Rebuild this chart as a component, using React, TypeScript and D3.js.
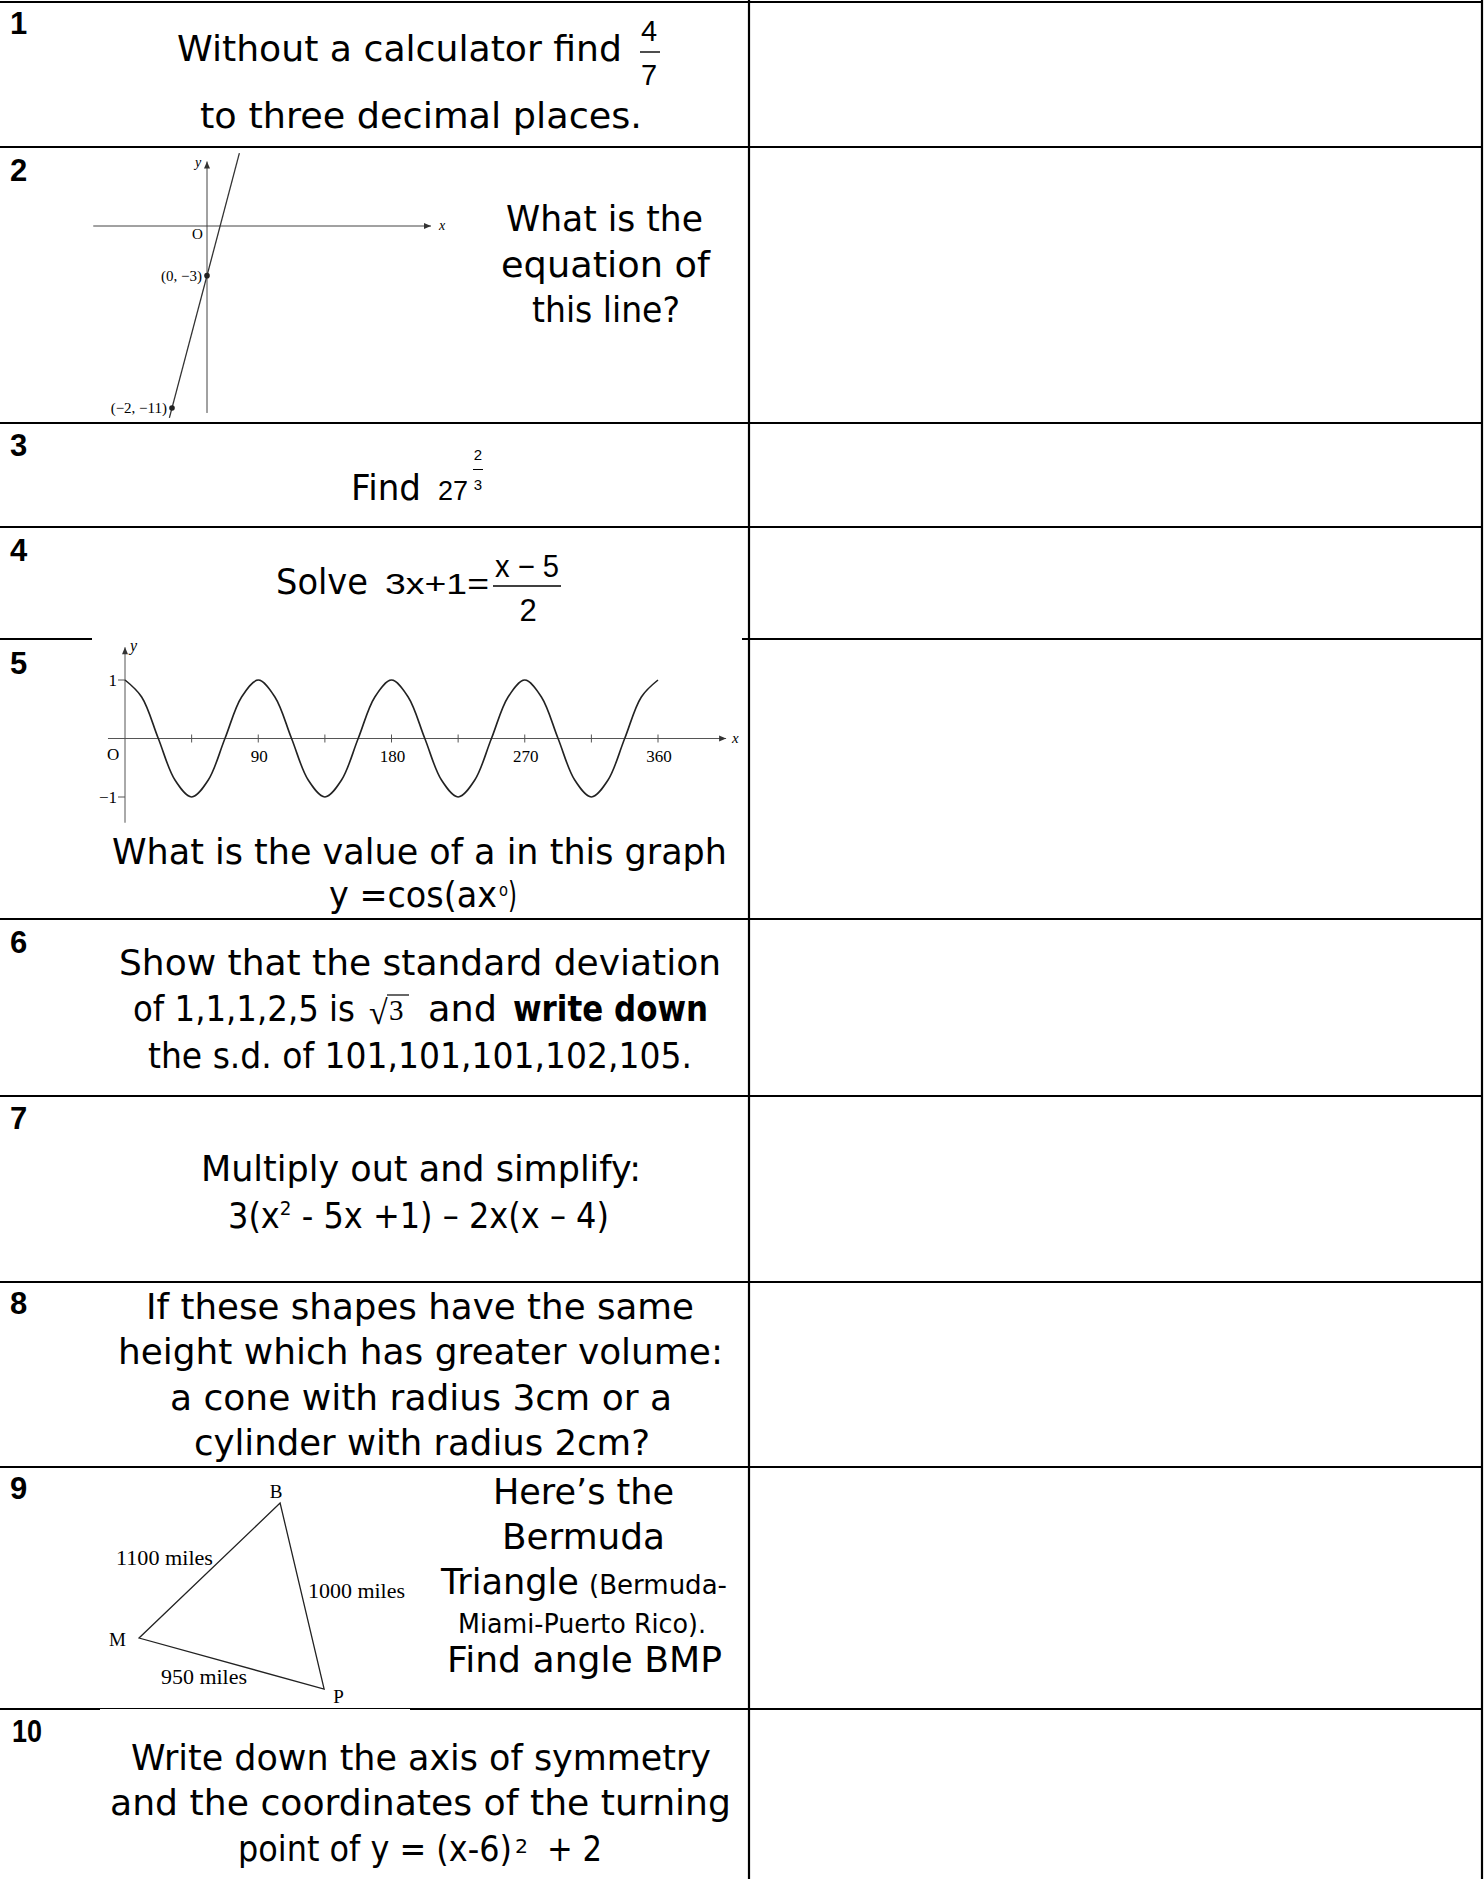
import * as d3 from 'd3';

// ---- page size ----
const W = 1484;
const H = 1879;

const FONT = "'DejaVu Sans', 'Noto Sans', sans-serif";
const MATH = "'Liberation Sans', Arial, sans-serif";
const SERIF = "'Liberation Serif', 'Times New Roman', serif";

// ---- content ----
const questionNumbers = ['1', '2', '3', '4', '5', '6', '7', '8', '9', '10'];

const q1Text = ['Without a calculator find', 'to three decimal places.'];
const q1Fraction = ['4', '7'];

const q2Text = ['What is the', 'equation of', 'this line?'];
const q2AxisX = [-6.5, 12.8];
const q2AxisY = [-11.3, 3.9];
const q2LineEnds = [
  { x: -2.15, y: -11.6 },
  { x: 1.85, y: 4.4 },
];
const q2Points = [
  { x: 0, y: -3, label: '(0, −3)' },
  { x: -2, y: -11, label: '(−2, −11)' },
];

const q3Text = ['Find', '27'];
const q3Exponent = ['2', '3'];

const q4Text = ['Solve', '3x+1='];
const q4Fraction = ['x − 5', '2'];

const q5Angles = [
  0, 11.25, 22.5, 33.75, 45, 56.25, 67.5, 78.75, 90, 101.25, 112.5, 123.75, 135, 146.25, 157.5, 168.75,
  180, 191.25, 202.5, 213.75, 225, 236.25, 247.5, 258.75, 270, 281.25, 292.5, 303.75, 315, 326.25, 337.5,
  348.75, 360,
];
const q5Values = [
  1, 0.71, 0, -0.71, -1, -0.71, 0, 0.71, 1, 0.71, 0, -0.71, -1, -0.71, 0, 0.71,
  1, 0.71, 0, -0.71, -1, -0.71, 0, 0.71, 1, 0.71, 0, -0.71, -1, -0.71, 0,
  0.71, 1,
];
const q5AxisX = [-11.5, 406];
const q5AxisY = [-1.44, 1.56];
const q5Ticks = [45, 90, 135, 180, 225, 270, 315, 360];
const q5TickLabels = [90, 180, 270, 360];
const q5YLabels = [1, -1];
const q5Text = ['What is the value of a in this graph', 'y =cos(ax', 'o', ')'];

const q6Text = [
  'Show that the standard deviation',
  'of 1,1,1,2,5 is',
  '3',
  'and',
  'write down',
  'the s.d. of 101,101,101,102,105.',
];

const q7Text = ['Multiply out and simplify:', '3(x', '2', ' - 5x +1) – 2x(x – 4)'];

const q8Text = [
  'If these shapes have the same',
  'height which has greater volume:',
  'a cone with radius 3cm or a',
  'cylinder with radius 2cm?',
];

const q9Vertices = [
  { name: 'B', x: 0.581, y: 0.101 },
  { name: 'M', x: 0.126, y: 0.693 },
  { name: 'P', x: 0.723, y: 0.917 },
];
const q9Sides = ['1100 miles', '1000 miles', '950 miles'];
const q9Text = ['Here’s the', 'Bermuda', 'Triangle', '(Bermuda-', 'Miami-Puerto Rico).', 'Find angle BMP'];

const q10Text = [
  'Write down the axis of symmetry',
  'and the coordinates of the turning',
  'point of y = (x-6)',
  '2',
  '+ 2',
];

// ---- layout ----
const COL_SPLIT = 749;
const RIGHT = 1482;
const ROW_LINES = [2, 147, 423, 527, 639, 919, 1096, 1282, 1467, 1709];
const NUMBER_BASELINES = [34, 181, 456, 561, 674, 953, 1129, 1314, 1499, 1742];

type TProps = {
  x: number;
  y: number;
  w?: number;
  size?: number;
  family?: string;
  weight?: string | number;
  anchor?: 'start' | 'middle' | 'end';
  italic?: boolean;
  children: React.ReactNode;
};

function T({ x, y, w, size = 35, family = FONT, weight, anchor = 'start', italic, children }: TProps) {
  return (
    <text
      x={x}
      y={y}
      textLength={w}
      lengthAdjust={w ? 'spacingAndGlyphs' : undefined}
      textAnchor={anchor}
      fontSize={size}
      fontFamily={family}
      fontWeight={weight}
      fontStyle={italic ? 'italic' : undefined}
      fill="#000"
    >
      {children}
    </text>
  );
}

function Arrow({ x, y, dir }: { x: number; y: number; dir: 'up' | 'right' }) {
  const p =
    dir === 'up'
      ? `M${x},${y} L${x - 3},${y + 7} L${x + 3},${y + 7} Z`
      : `M${x},${y} L${x - 7},${y - 3} L${x - 7},${y + 3} Z`;
  return <path d={p} fill="#333" />;
}

function LineGraph() {
  const x = d3.scaleLinear().domain([-2, 0]).range([172, 207]);
  const y = d3.scaleLinear().domain([-11, 0]).range([408, 226]);
  const line = d3.line<{ x: number; y: number }>().x((d) => x(d.x)).y((d) => y(d.y));
  return (
    <g>
      <line x1={x(q2AxisX[0])} x2={x(q2AxisX[1])} y1={y(0)} y2={y(0)} stroke="#444" strokeWidth={1} />
      <line x1={x(0)} x2={x(0)} y1={y(q2AxisY[0])} y2={y(q2AxisY[1])} stroke="#444" strokeWidth={1} />
      <Arrow x={x(q2AxisX[1])} y={y(0)} dir="right" />
      <Arrow x={x(0)} y={y(q2AxisY[1])} dir="up" />
      <T x={x(0) - 12} y={y(q2AxisY[1]) + 6} size={14} family={SERIF} italic>y</T>
      <T x={x(q2AxisX[1]) + 8} y={y(0) + 4} size={14} family={SERIF} italic>x</T>
      <T x={x(0) - 15} y={y(0) + 13} size={15} family={SERIF}>O</T>
      <path d={line(q2LineEnds) ?? ''} fill="none" stroke="#333" strokeWidth={1.3} />
      {q2Points.map((p) => (
        <g key={p.label}>
          <circle cx={x(p.x)} cy={y(p.y)} r={2.8} fill="#222" />
          <T x={x(p.x) - 5} y={y(p.y) + 5} size={15} family={SERIF} anchor="end">
            {p.label}
          </T>
        </g>
      ))}
    </g>
  );
}

function CosGraph() {
  const x = d3.scaleLinear().domain([0, 360]).range([125, 658]);
  const y = d3.scaleLinear().domain([-1, 1]).range([797, 680]);
  const pts = q5Angles.map((a, i) => [a, q5Values[i]] as [number, number]);
  const line = d3
    .line<[number, number]>()
    .x((d) => x(d[0]))
    .y((d) => y(d[1]))
    .curve(d3.curveCatmullRom);
  return (
    <g>
      <line x1={x(q5AxisX[0])} x2={x(q5AxisX[1])} y1={y(0)} y2={y(0)} stroke="#555" strokeWidth={1} />
      <line x1={x(0)} x2={x(0)} y1={y(q5AxisY[0])} y2={y(q5AxisY[1])} stroke="#555" strokeWidth={1} />
      <Arrow x={x(q5AxisX[1])} y={y(0)} dir="right" />
      <Arrow x={x(0)} y={y(q5AxisY[1])} dir="up" />
      {q5Ticks.map((t) => (
        <line key={t} x1={x(t)} x2={x(t)} y1={y(0) - 4} y2={y(0) + 4} stroke="#555" strokeWidth={1} />
      ))}
      {q5TickLabels.map((t) => (
        <T key={t} x={x(t) + 1} y={y(0) + 23} size={17} family={SERIF} anchor="middle">
          {t}
        </T>
      ))}
      {q5YLabels.map((v) => (
        <g key={v}>
          <line x1={x(0) - 7} x2={x(0)} y1={y(v)} y2={y(v)} stroke="#555" strokeWidth={1} />
          <T x={x(0) - 8} y={y(v) + 6} size={17} family={SERIF} anchor="end">
            {v < 0 ? `−${-v}` : `${v}`}
          </T>
        </g>
      ))}
      <T x={x(0) - 18} y={y(0) + 21} size={17} family={SERIF}>O</T>
      <T x={x(0) + 5} y={y(q5AxisY[1]) + 4} size={16} family={SERIF} italic>y</T>
      <T x={x(q5AxisX[1]) + 6} y={y(0) + 4} size={15} family={SERIF} italic>x</T>
      <path d={line(pts) ?? ''} fill="none" stroke="#222" strokeWidth={1.6} />
    </g>
  );
}

function Triangle() {
  const x = d3.scaleLinear().domain([0, 1]).range([100, 410]);
  const y = d3.scaleLinear().domain([0, 1]).range([1480, 1708]);
  const path = d3.line<{ x: number; y: number }>().x((d) => x(d.x)).y((d) => y(d.y));
  const [B, M, P] = q9Vertices;
  return (
    <g>
      <path d={(path(q9Vertices) ?? '') + 'Z'} fill="none" stroke="#222" strokeWidth={1.3} />
      <T x={x(B.x) - 4} y={y(B.y) - 5} size={19} family={SERIF} anchor="middle">{B.name}</T>
      <T x={x(M.x) - 30} y={y(M.y) + 8} size={19} family={SERIF}>{M.name}</T>
      <T x={x(P.x) + 9} y={y(P.y) + 14} size={19} family={SERIF}>{P.name}</T>
      <T x={116} y={1565} w={97} size={20} family={SERIF}>{q9Sides[0]}</T>
      <T x={308} y={1598} w={97} size={20} family={SERIF}>{q9Sides[1]}</T>
      <T x={161} y={1684} w={86} size={20} family={SERIF}>{q9Sides[2]}</T>
    </g>
  );
}

export default function App() {
  const border = { stroke: '#000', strokeWidth: 2.2 };
  return (
    <div style={{ position: 'absolute', left: 0, top: 0, width: W, height: H, background: '#fff' }}>
      <svg width={W} height={H} viewBox={`0 0 ${W} ${H}`} style={{ display: 'block' }}>
        <rect x={0} y={0} width={W} height={H} fill="#fff" />

        {/* table rules */}
        {ROW_LINES.map((ry, i) => {
          if (i === 4) {
            return (
              <g key={ry}>
                <line x1={0} x2={92} y1={ry} y2={ry} {...border} />
                <line x1={742} x2={RIGHT + 1} y1={ry} y2={ry} {...border} />
              </g>
            );
          }
          if (i === 9) {
            return (
              <g key={ry}>
                <line x1={0} x2={100} y1={ry} y2={ry} {...border} />
                <line x1={100} x2={410} y1={ry - 0.5} y2={ry - 0.5} stroke="#000" strokeWidth={1} />
                <line x1={410} x2={RIGHT + 1} y1={ry} y2={ry} {...border} />
              </g>
            );
          }
          return <line key={ry} x1={0} x2={RIGHT + 1} y1={ry} y2={ry} {...border} />;
        })}
        <line x1={COL_SPLIT} x2={COL_SPLIT} y1={0} y2={H} {...border} />
        <line x1={RIGHT} x2={RIGHT} y1={0} y2={H} {...border} />

        {/* question numbers */}
        {questionNumbers.map((n, i) => (
          <T
            key={n}
            x={n.length > 1 ? 12 : 10}
            y={NUMBER_BASELINES[i]}
            w={n.length > 1 ? 30 : undefined}
            size={31}
            family={MATH}
            weight="bold"
          >
            {n}
          </T>
        ))}

        {/* 1 */}
        <T x={177} y={61} w={445}>{q1Text[0]}</T>
        <T x={649} y={41} size={29} family={MATH} anchor="middle">{q1Fraction[0]}</T>
        <line x1={640} x2={660} y1={52} y2={52} stroke="#000" strokeWidth={1.4} />
        <T x={649} y={85} size={29} family={MATH} anchor="middle">{q1Fraction[1]}</T>
        <T x={200} y={128} w={442}>{q1Text[1]}</T>

        {/* 2 */}
        <LineGraph />
        <T x={506} y={231} w={197}>{q2Text[0]}</T>
        <T x={501} y={277} w={209}>{q2Text[1]}</T>
        <T x={532} y={322} w={148}>{q2Text[2]}</T>

        {/* 3 */}
        <T x={351} y={500} w={70}>{q3Text[0]}</T>
        <T x={438} y={500} size={27} family={MATH}>{q3Text[1]}</T>
        <T x={478} y={460} size={15} family={MATH} anchor="middle">{q3Exponent[0]}</T>
        <line x1={473} x2={483} y1={469.5} y2={469.5} stroke="#000" strokeWidth={1} />
        <T x={478} y={490} size={15} family={MATH} anchor="middle">{q3Exponent[1]}</T>

        {/* 4 */}
        <T x={276} y={594} w={92}>{q4Text[0]}</T>
        <T x={385} y={594} w={104} size={30} family={MATH}>{q4Text[1]}</T>
        <T x={527} y={577} w={64} size={31} family={MATH} anchor="middle">{q4Fraction[0]}</T>
        <line x1={493} x2={561} y1={586} y2={586} stroke="#000" strokeWidth={1.4} />
        <T x={528} y={621} size={31} family={MATH} anchor="middle">{q4Fraction[1]}</T>

        {/* 5 */}
        <CosGraph />
        <T x={112} y={864} w={615}>{q5Text[0]}</T>
        <T x={329} y={907} w={168}>{q5Text[1]}</T>
        <T x={499} y={896} w={9} size={17}>{q5Text[2]}</T>
        <T x={508} y={907} w={9}>{q5Text[3]}</T>

        {/* 6 */}
        <T x={119} y={975} w={602}>{q6Text[0]}</T>
        <T x={133} y={1021} w={222}>{q6Text[1]}</T>
        <T x={369} y={1024} size={34} family={SERIF}>√</T>
        <line x1={387} x2={409} y1={995} y2={995} stroke="#000" strokeWidth={1.2} />
        <T x={389} y={1020} size={29} family={SERIF}>{q6Text[2]}</T>
        <T x={428} y={1021} w={69}>{q6Text[3]}</T>
        <T x={513} y={1021} w={195} weight="bold">{q6Text[4]}</T>
        <T x={148} y={1068} w={544}>{q6Text[5]}</T>

        {/* 7 */}
        <T x={201} y={1181} w={440}>{q7Text[0]}</T>
        <text x={228} y={1228} textLength={381} lengthAdjust="spacingAndGlyphs" fontSize={35} fontFamily={FONT} fill="#000">
          {q7Text[1]}
          <tspan fontSize={20} dy={-13}>{q7Text[2]}</tspan>
          <tspan dy={13}>{q7Text[3]}</tspan>
        </text>

        {/* 8 */}
        <T x={146} y={1319} w={548}>{q8Text[0]}</T>
        <T x={118} y={1364} w={605}>{q8Text[1]}</T>
        <T x={170} y={1410} w={502}>{q8Text[2]}</T>
        <T x={194} y={1455} w={456}>{q8Text[3]}</T>

        {/* 9 */}
        <Triangle />
        <T x={493} y={1504} w={181}>{q9Text[0]}</T>
        <T x={502} y={1549} w={163}>{q9Text[1]}</T>
        <T x={441} y={1594} w={138}>{q9Text[2]}</T>
        <T x={589} y={1594} w={138} size={26}>{q9Text[3]}</T>
        <T x={458} y={1633} w={248} size={27}>{q9Text[4]}</T>
        <T x={447} y={1672} w={275}>{q9Text[5]}</T>

        {/* 10 */}
        <T x={131} y={1770} w={580}>{q10Text[0]}</T>
        <T x={110} y={1815} w={621}>{q10Text[1]}</T>
        <T x={238} y={1861} w={274}>{q10Text[2]}</T>
        <T x={515} y={1853} w={13} size={20}>{q10Text[3]}</T>
        <T x={547} y={1861} w={55}>{q10Text[4]}</T>
      </svg>
    </div>
  );
}
